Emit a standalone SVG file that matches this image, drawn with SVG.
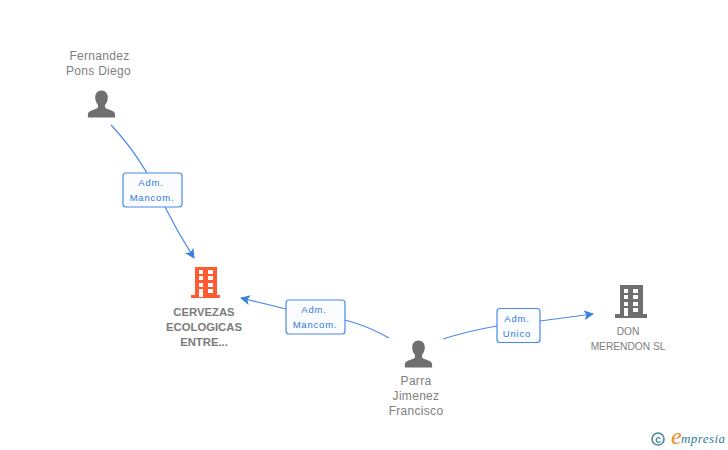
<svg xmlns="http://www.w3.org/2000/svg" width="728" height="450" viewBox="0 0 728 450">
<style>
text{font-family:"Liberation Sans",Arial,sans-serif}
.n{font-size:12px;fill:#808080;text-anchor:middle;letter-spacing:.3px}
.b{font-size:11.300px;font-weight:bold;fill:#7b7b7b;text-anchor:middle}
.d{font-size:10.200px;fill:#808080;text-anchor:middle}
.l{font-size:9.500px;fill:#2f78de;text-anchor:middle;letter-spacing:.8px}
.c{fill:none;stroke:#4a8ae8;stroke-width:1.200}
.box{fill:#fbfcfe;stroke:#4a8ae8;stroke-width:1.200}
.g{fill:#6f6f6f}
.o{fill:#ff5a30}
</style>
<defs>
<marker id="a" markerWidth="12" markerHeight="12" refX="9" refY="5" orient="auto" markerUnits="userSpaceOnUse"><path d="M0 0L10 5L0 10L2.500 5Z" fill="#3d80e0"/></marker>
<symbol id="person" viewBox="0 0 28 28" overflow="visible"><path d="M14 0.500c4 0 6.300 3 6.300 6.800c0 3-1 5.700-2.700 7.500v2.200c0 1 1 1.600 3 2.200c4 1.300 6.800 2.200 7 5v3.300H0.400v-3.300c.2-2.800 3-3.700 7-5c2-.6 3-1.200 3-2.200v-2.200C8.700 13 7.700 10.300 7.700 7.300C7.700 3.500 10 .5 14 .5Z"/></symbol>
</defs>
<g id="connectors">
<path class="c" d="M111 125Q131 146 147 173"/>
<path class="c" marker-end="url(#a)" d="M165 207Q178 233 194 258"/>
<path class="c" marker-end="url(#a)" d="M286 309L241 298"/>
<path class="c" d="M345 320Q368 326 389 338"/>
<path class="c" d="M443 339Q468 331 497 326"/>
<path class="c" marker-end="url(#a)" d="M540 321L593 314"/>
</g>
<g id="node-fernandez">
<text class="n" x="99.500" y="60">Fernandez</text>
<text class="n" x="98.500" y="75">Pons Diego</text>
<use href="#person" class="g" x="87.500" y="90" width="28" height="28"/>
</g>
<g id="node-cervezas">
<path class="o" d="M195 267H217V295H220V298H191V295H195Z"/>
<g fill="#fff"><rect x="199" y="270" width="4" height="4"/><rect x="208" y="270" width="5" height="4"/><rect x="199" y="276" width="4" height="4"/><rect x="208" y="276" width="5" height="4"/><rect x="199" y="283" width="4" height="4"/><rect x="208" y="283" width="5" height="4"/><rect x="199" y="289" width="4" height="8"/><rect x="208" y="289" width="5" height="4"/></g>
<text class="b" x="204" y="316">CERVEZAS</text>
<text class="b" x="204" y="331">ECOLOGICAS</text>
<text class="b" x="204" y="346">ENTRE...</text>
</g>
<g id="node-parra">
<use href="#person" class="g" x="404.500" y="340" width="28" height="28"/>
<text class="n" x="416" y="385">Parra</text>
<text class="n" x="416" y="400">Jimenez</text>
<text class="n" x="416" y="415">Francisco</text>
</g>
<g id="node-don">
<path class="g" d="M620 285H643V314H647V318H615V314H620Z"/>
<g fill="#fff"><rect x="624" y="289" width="4" height="4"/><rect x="633" y="289" width="5" height="4"/><rect x="624" y="295" width="4" height="4"/><rect x="633" y="295" width="5" height="4"/><rect x="624" y="302" width="4" height="4"/><rect x="633" y="302" width="5" height="4"/><rect x="624" y="308" width="4" height="8"/><rect x="633" y="308" width="5" height="4"/></g>
<text class="d" x="628" y="335">DON</text>
<text class="d" x="628" y="350">MERENDON SL</text>
</g>
<g id="label-1">
<rect class="box" x="123" y="173" width="59" height="34" rx="3"/>
<text class="l" x="151" y="186">Adm.</text>
<text class="l" x="152" y="201">Mancom.</text>
</g>
<g id="label-2">
<rect class="box" x="286" y="300" width="59" height="34" rx="3"/>
<text class="l" x="314" y="313">Adm.</text>
<text class="l" x="315" y="328">Mancom.</text>
</g>
<g id="label-3">
<rect class="box" x="497" y="308.500" width="43" height="34" rx="3"/>
<text class="l" x="517" y="322">Adm.</text>
<text class="l" x="517" y="337">Unico</text>
</g>
<g id="logo">
<circle cx="658" cy="439" r="6" fill="none" stroke="#4a8a9c" stroke-width="1.600"/>
<text x="658" y="442.500" font-size="10" font-weight="bold" fill="#4a8a9c" text-anchor="middle">c</text>
<text x="671" y="444" font-size="24" font-style="italic" fill="#f08a1e" style="font-family:'Liberation Serif',serif">e</text>
<text x="681" y="443" font-size="13" font-style="italic" fill="#2f7f8f" style="font-family:'Liberation Serif',serif" textLength="44">mpresia</text>
</g>
</svg>
